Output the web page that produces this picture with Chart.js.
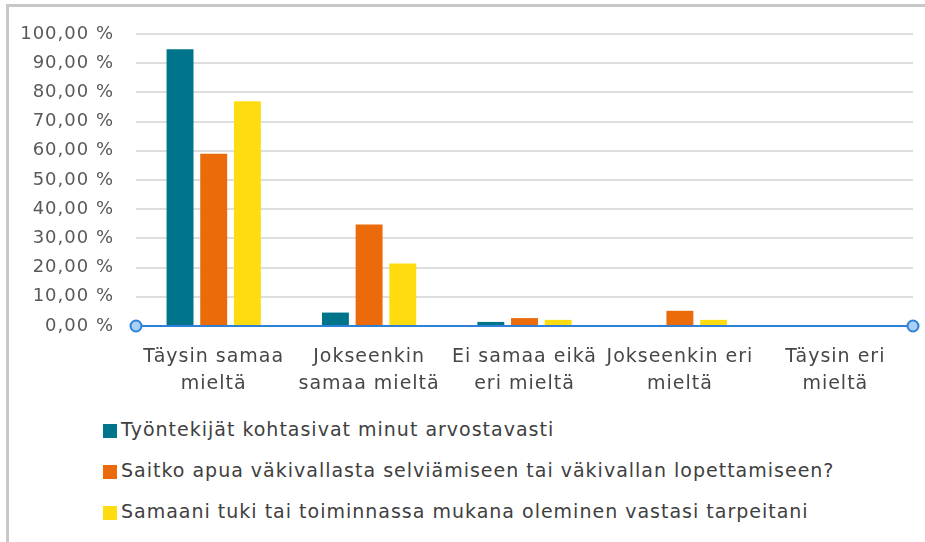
<!DOCTYPE html>
<html>
<head>
<meta charset="utf-8">
<script src="https://cdn.jsdelivr.net/npm/chart.js@4.4.1/dist/chart.umd.min.js"></script>
<style>
    html, body { margin: 0; padding: 0; background: #fff; }
    #frame {
        position: relative;
        width: 925px;
        height: 542px;
        overflow: hidden;
        font-family: "DejaVu Sans", sans-serif;
    }
    #frame-left { position: absolute; left: 6px; top: 4px; width: 3px; height: 538px; background: #c8c8c8; }
    #frame-top { position: absolute; left: 6px; top: 4px; width: 919px; height: 3px; background: #c8c8c8; }
    #chart-wrap { position: absolute; left: 0; top: 0; width: 925px; height: 405px; }
    #legend { position: absolute; left: 103px; top: 418px; }
    .legend-item { height: 41px; display: flex; align-items: flex-start; color: #404040; font-size: 19px; letter-spacing: 1px; }
    .legend-box { width: 14px; height: 14px; margin-top: 6px; margin-right: 4px; flex: none; }
</style>
</head>
<body>
<div id="frame">
    <div id="frame-left"></div>
    <div id="frame-top"></div>
    <div id="chart-wrap"><canvas id="bar-chart"></canvas></div>
    <div id="legend"></div>
</div>
<script>
// Data
const categories = [
    ['Täysin samaa', 'mieltä'],
    ['Jokseenkin', 'samaa mieltä'],
    ['Ei samaa eikä', 'eri mieltä'],
    ['Jokseenkin eri', 'mieltä'],
    ['Täysin eri', 'mieltä']
];
const seriesNames = [
    'Työntekijät kohtasivat minut arvostavasti',
    'Saitko apua väkivallasta selviämiseen tai väkivallan lopettamiseen?',
    'Samaani tuki tai toiminnassa mukana oleminen vastasi tarpeitani'
];
const treatedValues = [94.8, 4.6, 1.4, 0, 0];
const helpValues = [59.0, 34.8, 2.7, 5.2, 0];
const supportValues = [77.0, 21.4, 2.1, 2.1, 0];
const seriesColors = ['#00748b', '#eb6a0a', '#ffdc10'];
const yTicks = [0, 10, 20, 30, 40, 50, 60, 70, 80, 90, 100];

// Wider letter spacing, closer to the original geometric font
const wideText = {
    id: 'wideText',
    beforeDraw(chart) {
        chart.ctx.letterSpacing = '1px';
    }
};

// Round markers at both ends of the blue base line
const axisEnds = {
    id: 'axisEnds',
    afterDraw(chart) {
        const ctx = chart.ctx;
        const area = chart.chartArea;
        const y0 = chart.scales.y.getPixelForValue(0);
        ctx.save();
        [area.left, area.right].forEach(x => {
            ctx.beginPath();
            ctx.arc(x, y0, 5.5, 0, Math.PI * 2);
            ctx.fillStyle = '#a9d0f5';
            ctx.fill();
            ctx.lineWidth = 2;
            ctx.strokeStyle = '#2f80d8';
            ctx.stroke();
        });
        ctx.restore();
    }
};

window.addEventListener('DOMContentLoaded', () => {
    const values = [treatedValues, helpValues, supportValues];

    const ctx = document.getElementById('bar-chart').getContext('2d');
    new Chart(ctx, {
        type: 'bar',
        data: {
            labels: categories,
            datasets: seriesNames.map((name, i) => ({
                label: name,
                data: values[i],
                backgroundColor: seriesColors[i],
                borderWidth: 0,
                categoryPercentage: 0.65,
                barPercentage: 0.8
            }))
        },
        options: {
            responsive: true,
            maintainAspectRatio: false,
            animation: false,
            layout: { padding: { left: 0, top: 34, right: 12, bottom: 0 } },
            plugins: {
                legend: { display: false },
                tooltip: { enabled: false }
            },
            scales: {
                x: {
                    grid: { display: false },
                    border: { color: '#2f80d8', width: 2 },
                    ticks: {
                        color: '#474747',
                        font: { family: 'DejaVu Sans', size: 19, lineHeight: 1.4 },
                        padding: 10,
                        maxRotation: 0,
                        autoSkip: false
                    },
                    afterFit: scale => { scale.height = 79; }
                },
                y: {
                    min: 0,
                    max: 100,
                    afterBuildTicks: scale => { scale.ticks = yTicks.map(v => ({ value: v })); },
                    grid: {
                        color: c => c.tick.value === 0 ? 'rgba(0,0,0,0)' : '#dedede',
                        lineWidth: 2,
                        drawTicks: false
                    },
                    border: { display: false },
                    ticks: {
                        color: '#595959',
                        font: { family: 'DejaVu Sans', size: 18 },
                        padding: 22,
                        callback: v => v.toFixed(2).replace('.', ',') + ' %'
                    },
                    afterFit: scale => { scale.width = 136; }
                }
            }
        },
        plugins: [wideText, axisEnds]
    });

    // Legend as a vertical list below the chart
    const legend = document.getElementById('legend');
    seriesNames.forEach((name, i) => {
        const item = document.createElement('div');
        item.className = 'legend-item';
        item.innerHTML = `<span class="legend-box" style="background:${seriesColors[i]}"></span><span>${name}</span>`;
        legend.appendChild(item);
    });
});
</script>
</body>
</html>
